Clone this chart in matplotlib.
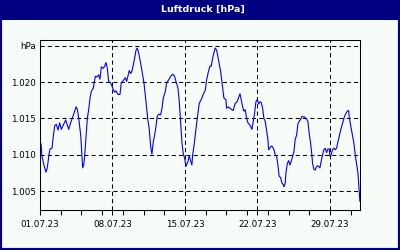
import datetime
import matplotlib
matplotlib.use('Agg')
import matplotlib.pyplot as plt
import matplotlib.dates as mdates
from matplotlib.patches import Rectangle

# days since 01.07.23 00:00 and air pressure in hPa
days = [0.10, 0.19, 0.39, 0.58, 0.70, 0.87, 0.97, 1.16, 1.28, 1.42, 1.57, 1.74, 1.90, 2.06,
        2.25, 2.48, 2.64, 2.77, 2.96, 3.16, 3.35, 3.48, 3.60, 3.74, 3.93, 4.05, 4.12, 4.22,
        4.31, 4.44, 4.57, 4.70, 4.83, 4.95, 5.15, 5.34, 5.47, 5.67, 5.79, 5.92, 6.11, 6.25,
        6.37, 6.50, 6.63, 6.82, 7.02, 7.21, 7.34, 7.53, 7.72, 7.85, 8.04, 8.23, 8.37, 8.49,
        8.62, 8.76, 8.88, 9.01, 9.14, 9.27, 9.39, 9.53, 9.72, 9.85, 10.04, 10.16, 10.30,
        10.42, 10.55, 10.69, 10.81, 10.94, 11.07, 11.20, 11.32, 11.46, 11.65, 11.78, 11.90,
        12.10, 12.23, 12.42, 12.62, 12.81, 13.00, 13.13, 13.32, 13.45, 13.58, 13.71, 13.83,
        13.97, 14.09, 14.29, 14.41, 14.55, 14.67, 14.74, 14.86, 14.99, 15.13, 15.25, 15.38,
        15.57, 15.76, 15.96, 16.09, 16.22, 16.41, 16.54, 16.67, 16.80, 16.92, 17.06, 17.18,
        17.31, 17.44, 17.57, 17.76, 17.95, 18.02, 18.21, 18.34, 18.53, 18.66, 18.85, 18.99,
        19.11, 19.31, 19.43, 19.57, 19.69, 19.82, 19.95, 20.08, 20.27, 20.46, 20.59, 20.72,
        20.85, 20.98, 21.11, 21.24, 21.36, 21.50, 21.62, 21.75, 21.88, 22.01, 22.08, 22.33,
        22.46, 22.59, 22.71, 22.85, 22.97, 23.10, 23.23, 23.36, 23.49, 23.55, 23.68, 23.75,
        23.88, 24.01, 24.13, 24.26, 24.39, 24.52, 24.64, 24.78, 24.91, 25.03, 25.17, 25.29,
        25.42, 25.55, 25.74, 25.87, 25.99, 26.13, 26.25, 26.32, 26.45, 26.58, 26.64, 26.77,
        26.90, 27.03, 27.15, 27.29, 27.41, 27.54, 27.67, 27.80, 27.93, 27.99, 28.12, 28.25,
        28.38, 28.51, 28.64, 28.77, 28.89, 29.03, 29.15, 29.28, 29.41, 29.54, 29.66, 29.80,
        29.86, 29.99, 30.19, 30.31, 30.44, 30.57, 30.70, 30.77, 30.83, 30.89]
pressure = [1011.5, 1009.8, 1008.5, 1007.6, 1008.2, 1010.0, 1010.8, 1010.9, 1012.5, 1014.0,
            1014.2, 1013.4, 1014.4, 1013.5, 1014.1, 1014.8, 1014.1, 1013.5, 1014.4, 1015.2,
            1016.0, 1016.6, 1016.3, 1015.0, 1012.7, 1010.0, 1008.2, 1008.6, 1009.8, 1012.3,
            1015.0, 1016.2, 1017.8, 1018.7, 1019.2, 1020.8, 1020.7, 1021.0, 1020.4, 1022.1,
            1021.9, 1022.2, 1022.7, 1021.9, 1020.1, 1019.9, 1019.2, 1018.6, 1018.8, 1018.3,
            1018.3, 1019.9, 1020.2, 1020.6, 1020.1, 1020.8, 1021.6, 1021.2, 1021.5, 1022.4,
            1023.3, 1024.4, 1024.7, 1024.0, 1022.6, 1021.5, 1019.9, 1018.3, 1016.4, 1014.8,
            1013.5, 1011.1, 1010.1, 1011.8, 1012.7, 1013.9, 1015.3, 1015.6, 1015.5, 1016.4,
            1017.8, 1018.7, 1019.9, 1020.3, 1020.8, 1021.1, 1020.8, 1020.1, 1019.2, 1017.3,
            1014.4, 1011.6, 1010.2, 1009.5, 1008.4, 1009.1, 1009.9, 1009.1, 1008.6, 1010.0,
            1011.1, 1012.7, 1014.4, 1015.7, 1017.1, 1017.6, 1018.3, 1018.9, 1020.3, 1021.2,
            1022.2, 1022.2, 1023.3, 1024.1, 1024.7, 1024.4, 1023.5, 1022.6, 1021.5, 1020.0,
            1017.8, 1017.6, 1016.4, 1016.6, 1016.4, 1016.2, 1016.1, 1017.1, 1017.2, 1017.6,
            1018.4, 1017.6, 1016.6, 1016.0, 1016.2, 1015.0, 1014.4, 1014.1, 1013.5, 1014.6,
            1015.7, 1017.3, 1017.6, 1017.0, 1017.3, 1017.2, 1016.4, 1015.0, 1014.6, 1013.4,
            1012.1, 1010.7, 1011.2, 1011.1, 1010.7, 1010.0, 1009.8, 1008.6, 1007.0, 1006.9,
            1006.1, 1005.9, 1005.6, 1006.1, 1007.5, 1008.8, 1009.2, 1008.6, 1009.1, 1009.8,
            1010.4, 1012.1, 1012.7, 1014.3, 1014.6, 1014.9, 1015.3, 1015.2, 1015.2, 1014.9,
            1014.6, 1013.0, 1011.6, 1010.0, 1008.8, 1008.0, 1007.9, 1008.2, 1008.5, 1008.4,
            1008.2, 1009.1, 1010.0, 1010.7, 1010.9, 1010.3, 1010.8, 1010.8, 1009.8, 1010.0,
            1010.7, 1010.9, 1010.7, 1010.9, 1011.8, 1012.5, 1013.4, 1014.0, 1014.6, 1015.3,
            1015.7, 1016.0, 1016.1, 1015.2, 1014.1, 1012.5, 1011.6, 1010.0, 1008.8, 1007.5,
            1006.1, 1004.9, 1003.6]

y_ticks = [1005, 1010, 1015, 1020, 1025]
y_labels = ['1.005', '1.010', '1.015', '1.020', 'hPa']
x_tick_days = [0, 7, 14, 21, 28]

navy = '#000080'
bg = '#f8fcf8'

start = datetime.datetime(2023, 7, 1)
times = [start + datetime.timedelta(days=d) for d in days]

fig = plt.figure(figsize=(4, 2.5), dpi=100, facecolor=bg)

# title bar and frame around the whole picture
fig.patches.append(Rectangle((0, 0.92), 1, 0.08, transform=fig.transFigure,
                             facecolor=navy, edgecolor='none'))
fig.patches.append(Rectangle((0, 0), 1, 1, transform=fig.transFigure,
                             fill=False, edgecolor=navy, lw=3))
fig.text(0.507, 0.962, 'Luftdruck [hPa]', color='white', fontweight='bold',
         fontsize=6.8, ha='center', va='center')

ax = fig.add_axes([0.1, 0.16, 0.8, 0.68])
ax.set_facecolor(bg)
ax.plot(times, pressure, color='#0000ff', lw=0.8)

ax.set_ylim(1002.4, 1025.8)
ax.set_xlim(start, start + datetime.timedelta(days=30.9))
ax.set_yticks(y_ticks)
ax.set_yticklabels(y_labels)
ax.set_xticks([start + datetime.timedelta(days=d) for d in x_tick_days])
ax.xaxis.set_major_formatter(mdates.DateFormatter('%d.%m.%y'))
ax.xaxis.set_minor_locator(mdates.DayLocator(bymonthday=range(1, 32, 2)))

ax.grid(True, which='major', color='black', linestyle=(0, (4, 3)), lw=0.75)
ax.tick_params(axis='y', length=0, pad=3, labelsize=6.3)
ax.tick_params(axis='x', which='both', length=3.5, width=0.75, direction='out',
               pad=4, labelsize=6.3)
for s in ax.spines.values():
    s.set_linewidth(0.75)
    s.set_color('black')

plt.savefig('out.png', dpi=100, facecolor=bg)
